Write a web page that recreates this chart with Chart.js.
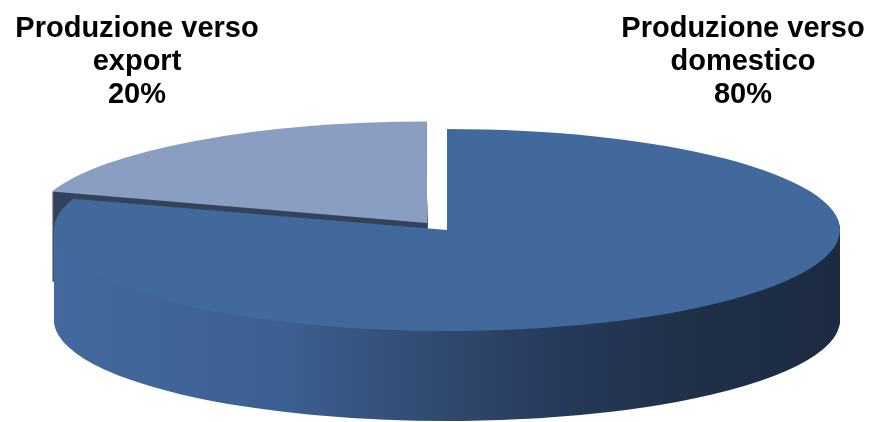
<!DOCTYPE html>
<html>
<head>
<meta charset="utf-8">
<script src="https://cdn.jsdelivr.net/npm/chart.js@4.4.0/dist/chart.umd.min.js"></script>
<style>
  html, body { margin: 0; padding: 0; background: #fff; }
  #wrap { width: 875px; height: 422px; position: relative; }
</style>
</head>
<body>
<div id="wrap"><canvas id="torta"></canvas></div>
<script>
// dati del grafico
const categorie = [['Produzione verso', 'domestico'], ['Produzione verso', 'export']];
const valori = [80, 20];
const coloriTop = ['#41699c', '#8a9ec1'];

const totale = valori.reduce((a, b) => a + b, 0);

// torta "3D": fette schiacciate e spessore disegnato a strati
const pie3d = {
  id: 'pie3d',
  beforeDatasetsDraw(chart, args, opts) {
    const ctx = chart.ctx;
    const meta = chart.getDatasetMeta(0);
    const el0 = meta.data[0];
    const R = el0.outerRadius;
    const squash = () => {
      ctx.translate(opts.cx, opts.cy);
      ctx.scale(opts.rx / R, opts.ry / R);
      ctx.translate(-el0.x, -el0.y);
    };

    const grad = ctx.createLinearGradient(el0.x - R, 0, el0.x + R, 0);
    grad.addColorStop(0, '#44699e');
    grad.addColorStop(0.3, '#3b5f90');
    grad.addColorStop(0.5, '#30496e');
    grad.addColorStop(0.65, '#26395a');
    grad.addColorStop(0.8, '#1f3049');
    grad.addColorStop(1, '#1c2b42');
    const coloriLato = [grad, '#34435c'];

    // prima la fetta dietro, poi quella davanti
    [1, 0].forEach(idx => {
      const el = meta.data[idx];
      const finta = Object.create(el);
      finta.options = Object.assign({}, el.options, { backgroundColor: coloriLato[idx], borderWidth: 0 });
      for (let i = opts.depth; i >= 1; i--) {
        ctx.save();
        ctx.translate(0, i);
        squash();
        el.draw.call(finta, ctx);
        ctx.restore();
      }
    });

    ctx.save();
    squash();
  },
  afterDatasetsDraw(chart) {
    chart.ctx.restore();
  }
};

// etichette sopra la torta
const etichette = {
  id: 'etichette',
  afterDraw(chart, args, opts) {
    const ctx = chart.ctx;
    ctx.save();
    ctx.font = opts.font;
    ctx.fillStyle = '#000';
    ctx.textAlign = 'center';
    ctx.textBaseline = 'alphabetic';
    categorie.forEach((righe, i) => {
      const testo = righe.concat(Math.round(valori[i] / totale * 100) + '%');
      testo.forEach((r, j) => ctx.fillText(r, opts.x[i], opts.y0 + j * opts.lh));
    });
    ctx.restore();
  }
};

new Chart(document.getElementById('torta'), {
  type: 'pie',
  data: {
    labels: categorie.map(c => c.join(' ')),
    datasets: [{
      data: valori,
      backgroundColor: coloriTop,
      borderWidth: 0,
      offset: [0, 62],
      clip: false
    }]
  },
  options: {
    responsive: true,
    maintainAspectRatio: false,
    animation: false,
    events: [],
    layout: { padding: 0 },
    plugins: {
      legend: { display: false },
      tooltip: { enabled: false },
      pie3d: { cx: 447, cy: 230, rx: 393, ry: 101, depth: 90 },
      etichette: { font: 'bold 29px "Liberation Sans", Arial, sans-serif', x: [743, 137], y0: 37, lh: 33 }
    }
  },
  plugins: [pie3d, etichette]
});
</script>
</body>
</html>
